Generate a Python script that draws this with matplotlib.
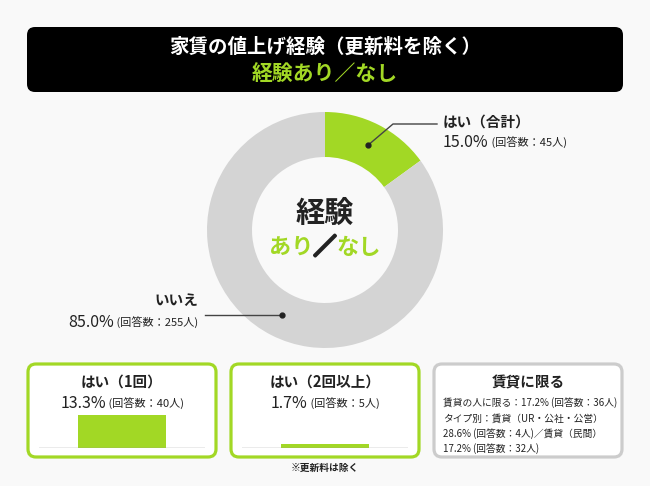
import numpy as np
import matplotlib
matplotlib.use("Agg")
import matplotlib.pyplot as plt
import matplotlib.patheffects as pe
from matplotlib.patches import FancyBboxPatch

plt.rcParams['font.family'] = ['Noto Sans CJK JP', 'DejaVu Sans']

# データ
title_main = "家賃の値上げ経験（更新料を除く）"
title_sub = "経験あり／なし"
pie_labels = ["はい（合計）", "いいえ"]
pie_shares = [15.0, 85.0]
pie_counts = [45, 255]

box_titles = ["はい（1回）", "はい（2回以上）"]
box_shares = [13.3, 1.7]
box_counts = [40, 5]

rent_title = "賃貸に限る"
rent_lines = ["賃貸の人に限る：17.2% (回答数：36人)",
              "タイプ別：賃貸（UR・公社・公営）",
              "28.6% (回答数：4人)／賃貸（民間）",
              "17.2% (回答数：32人)"]
note = "※更新料は除く"

W, H = 650, 486
BG = "#f9f9f9"
GREEN = "#a2d825"
GRAY = "#d4d4d4"
DARK = "#222222"

fig = plt.figure(figsize=(6.5, 4.86), dpi=100, facecolor=BG)
ax = fig.add_axes([0, 0, 1, 1])
ax.set_facecolor(BG)


def Y(py):
    return H - py


def row(x, y, parts, ha="center"):
    # parts: (text, size, weight, color) を横に並べる
    texts = []
    for s, fs, w, c in parts:
        t = ax.text(0, 0, s, fontsize=fs, fontweight=w, color=c,
                    ha="left", va="baseline")
        texts.append(t)
    r = fig.canvas.get_renderer()
    widths = [t.get_window_extent(r).width for t in texts]
    total = sum(widths)
    if ha == "center":
        start = x - total / 2
    elif ha == "right":
        start = x - total
    else:
        start = x
    for t, w in zip(texts, widths):
        t.set_position((start, Y(y)))
        start += w
    return texts


# タイトル
ax.add_patch(FancyBboxPatch((27, Y(92)), 596, 65,
                            boxstyle="round,pad=0,rounding_size=8",
                            fc="black", ec="none"))
ax.text(325, Y(47), title_main, color="white", fontsize=14, fontweight="bold",
        ha="center", va="center")
ax.text(325, Y(74), title_sub, color=GREEN, fontsize=15, fontweight="bold",
        ha="center", va="center")

# ドーナツ
cx, cy, R, ring = 325, Y(230), 118, 45
ax.pie(pie_shares, colors=[GREEN, GRAY], startangle=90, counterclock=False,
       radius=R, center=(cx, cy), frame=True,
       wedgeprops=dict(width=ring, edgecolor="none"))

ax.text(cx, Y(213), "経験", fontsize=21, fontweight="bold", color=DARK,
        ha="center", va="center")
ts = row(cx, 254, [("あり", 16, "bold", GREEN), ("／", 16, "bold", DARK),
                   ("なし", 16, "bold", GREEN)])
ts[1].set_path_effects([pe.withStroke(linewidth=2.2, foreground=DARK)])

# ラベルと引き出し線
cum = np.cumsum([0] + pie_shares)
mids = 90 - (cum[:-1] + cum[1:]) / 2 * 3.6
rm = R - ring / 2
dots = [(cx + rm * np.cos(np.radians(a)), cy + rm * np.sin(np.radians(a))) for a in mids]

d0 = dots[0]
ax.plot([d0[0], 393, 437], [d0[1], Y(124), Y(124)], color="#444444", lw=1)
d1 = dots[1]
ax.plot([d1[0], 205], [d1[1], d1[1]], color="#444444", lw=1)
for d in dots:
    ax.plot(*d, "o", color="#222222", ms=3.5)

ax.text(443, Y(122), pie_labels[0], fontsize=10.5, fontweight="bold", color=DARK,
        ha="left", va="center")
row(443, 147, [(f"{pie_shares[0]:.1f}%", 11.5, "normal", DARK),
               (f" (回答数：{pie_counts[0]}人)", 8, "normal", DARK)], ha="left")
ax.text(198, Y(300), pie_labels[1], fontsize=10.5, fontweight="bold", color=DARK,
        ha="right", va="center")
row(198, 327, [(f"{pie_shares[1]:.1f}%", 11.5, "normal", DARK),
               (f" (回答数：{pie_counts[1]}人)", 8, "normal", DARK)], ha="right")

# 下の箱
boxes = [(28, GREEN), (231, GREEN), (434, "#cccccc")]
for bx, ec in boxes:
    ax.add_patch(FancyBboxPatch((bx, Y(457)), 188, 93,
                                boxstyle="round,pad=0,rounding_size=8",
                                fc="white", ec=ec, lw=2.3))

for i, (tl, v, n) in enumerate(zip(box_titles, box_shares, box_counts)):
    bx = boxes[i][0]
    xc = bx + 94
    ax.text(xc, Y(382), tl, fontsize=10.5, fontweight="bold", color=DARK,
            ha="center", va="center")
    row(xc, 408, [(f"{v:.1f}%", 11.5, "normal", DARK),
                  (f" (回答数：{n}人)", 8, "normal", DARK)])
    bax = fig.add_axes([(bx + 11) / W, (H - 448) / H, 166 / W, 40 / H])
    bax.bar([0], [v], width=0.53, color=GREEN)
    bax.axhline(0, color="#999999", lw=1)
    bax.set_xlim(-0.5, 0.5)
    bax.set_ylim(0, 16)
    bax.axis("off")

ax.text(528, Y(382), rent_title, fontsize=10.5, fontweight="bold", color=DARK,
        ha="center", va="center")
for py, line in zip([403, 419, 434, 449], rent_lines):
    ax.text(443, Y(py), line, fontsize=7, color=DARK, ha="left", va="center")

ax.text(325, Y(468), note, fontsize=7, fontweight="bold", color=DARK,
        ha="center", va="center")

ax.set_xlim(0, W)
ax.set_ylim(0, H)
ax.axis("off")

fig.savefig("out.png", dpi=100, facecolor=BG)
